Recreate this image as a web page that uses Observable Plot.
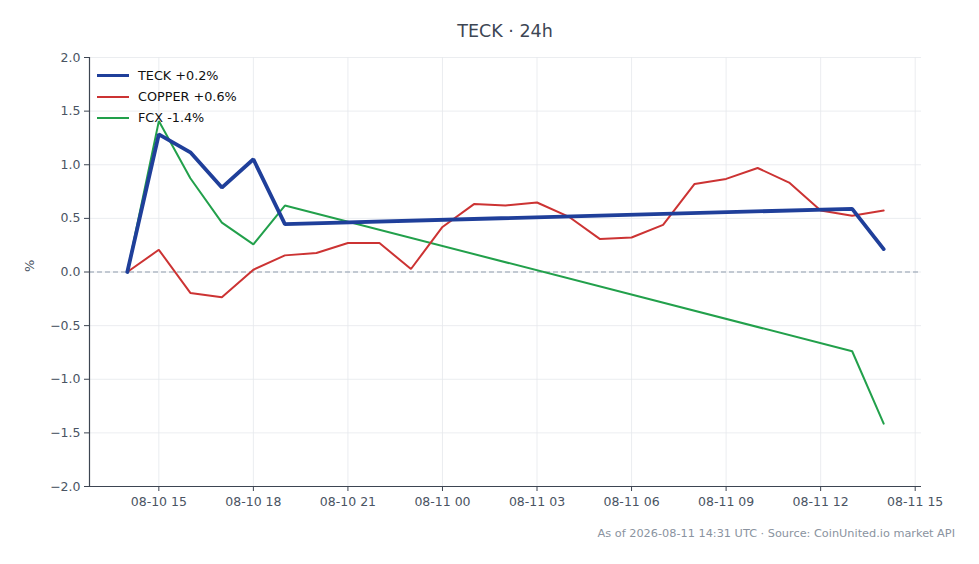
<!DOCTYPE html>
<html>
<head>
<meta charset="utf-8">
<script src="https://cdn.jsdelivr.net/npm/d3@7"></script>
<script src="https://cdn.jsdelivr.net/npm/@observablehq/plot@0.6"></script>
<style>
  html, body { margin: 0; padding: 0; background: #fff; }
  body { width: 979px; height: 564px; overflow: hidden; font-family: "DejaVu Sans", sans-serif; }
  #wrap { position: relative; width: 979px; }
  #title { height: 40px; line-height: 1; font-size: 17.5px; color: #3d4654; position: relative; }
  #title span { position: absolute; left: 505px; top: 23px; transform: translateX(-50%); white-space: nowrap; }
  #caption { position: relative; height: 40px; font-size: 11.3px; color: #8a93a0; }
  #caption span { position: absolute; right: 24px; top: 9px; white-space: nowrap; }
  #legend { position: absolute; left: 97px; top: 65px; font-size: 12.8px; color: #111; }
  #legend .row { display: flex; align-items: center; height: 21px; }
  #legend .sw { width: 32px; margin-right: 9px; }
</style>
</head>
<body>
<div id="wrap">
  <div id="title"><span>TECK · 24h</span></div>
  <div id="chart"></div>
  <div id="caption"><span>As of 2026-08-11 14:31 UTC · Source: CoinUnited.io market API</span></div>
  <div id="legend"></div>
</div>
<script>
// Data (percent change)
const tekTimes = ["2026-08-10T14:00Z","2026-08-10T15:00Z","2026-08-10T16:00Z","2026-08-10T17:00Z","2026-08-10T18:00Z","2026-08-10T19:00Z","2026-08-11T13:00Z","2026-08-11T14:00Z"];
const tekValues = [0, 1.284, 1.116, 0.787, 1.051, 0.447, 0.589, 0.214];

const copperTimes = ["2026-08-10T14:00Z","2026-08-10T15:00Z","2026-08-10T16:00Z","2026-08-10T17:00Z","2026-08-10T18:00Z","2026-08-10T19:00Z","2026-08-10T20:00Z","2026-08-10T21:00Z","2026-08-10T22:00Z","2026-08-10T23:00Z","2026-08-11T00:00Z","2026-08-11T01:00Z","2026-08-11T02:00Z","2026-08-11T03:00Z","2026-08-11T04:00Z","2026-08-11T05:00Z","2026-08-11T06:00Z","2026-08-11T07:00Z","2026-08-11T08:00Z","2026-08-11T09:00Z","2026-08-11T10:00Z","2026-08-11T11:00Z","2026-08-11T12:00Z","2026-08-11T13:00Z","2026-08-11T14:00Z"];
const copperValues = [0, 0.207, -0.195, -0.236, 0.021, 0.155, 0.177, 0.27, 0.27, 0.028, 0.42, 0.633, 0.62, 0.648, 0.517, 0.307, 0.322, 0.44, 0.821, 0.868, 0.97, 0.834, 0.573, 0.524, 0.573];

const fcxTimes = ["2026-08-10T14:00Z","2026-08-10T15:00Z","2026-08-10T16:00Z","2026-08-10T17:00Z","2026-08-10T18:00Z","2026-08-10T19:00Z","2026-08-11T13:00Z","2026-08-11T14:00Z"];
const fcxValues = [0, 1.407, 0.874, 0.461, 0.257, 0.62, -0.739, -1.414];

const seriesNames = ["TECK +0.2%", "COPPER +0.6%", "FCX -1.4%"];
const seriesColors = ["#1f3f9a", "#cc3333", "#22a04b"];
const seriesWidths = [3.8, 2, 2];

const xTicks = ["2026-08-10T15:00Z","2026-08-10T18:00Z","2026-08-10T21:00Z","2026-08-11T00:00Z","2026-08-11T03:00Z","2026-08-11T06:00Z","2026-08-11T09:00Z","2026-08-11T12:00Z","2026-08-11T15:00Z"].map(d => new Date(d));
const yTicks = [-2.0, -1.5, -1.0, -0.5, 0.0, 0.5, 1.0, 1.5, 2.0];
const xDomain = [new Date("2026-08-10T12:48Z"), new Date("2026-08-11T15:12Z")];

const toRows = (times, vals) => times.map((t, i) => ({t: new Date(t), v: vals[i]}));
const teck = toRows(tekTimes, tekValues);
const copper = toRows(copperTimes, copperValues);
const fcx = toRows(fcxTimes, fcxValues);

const axisColor = "#3d4552";
const fmtY = d => d.toFixed(1).replace("-", "\u2212");

const chart = Plot.plot({
  width: 979,
  height: 478,
  marginLeft: 89,
  marginRight: 58,
  marginTop: 17,
  marginBottom: 32,
  style: {fontFamily: "DejaVu Sans, sans-serif", fontSize: "12.5px", color: "#4a5463", background: "#fff"},
  x: {type: "utc", domain: xDomain},
  y: {domain: [-2, 2]},
  marks: [
    Plot.gridX(xTicks, {stroke: "#e6e8ec", strokeOpacity: 1, strokeWidth: 0.8}),
    Plot.gridY(yTicks, {stroke: "#e6e8ec", strokeOpacity: 1, strokeWidth: 0.8}),
    Plot.ruleY([0], {stroke: "#8f9cad", strokeWidth: 1, strokeDasharray: "5,3"}),
    Plot.line(fcx, {x: "t", y: "v", stroke: seriesColors[2], strokeWidth: seriesWidths[2], strokeLinejoin: "miter"}),
    Plot.line(copper, {x: "t", y: "v", stroke: seriesColors[1], strokeWidth: seriesWidths[1], strokeLinejoin: "miter"}),
    Plot.line(teck, {x: "t", y: "v", stroke: seriesColors[0], strokeWidth: seriesWidths[0], strokeLinejoin: "miter"}),
    Plot.axisX({ticks: xTicks, tickFormat: d3.utcFormat("%m-%d %H"), tickSize: 5, tickPadding: 6, stroke: axisColor, label: null, fill: "#4a5463"}),
    Plot.axisY({ticks: yTicks, tickFormat: fmtY, tickSize: 5, tickPadding: 4, stroke: axisColor, label: null, fill: "#4a5463"}),
    Plot.ruleX([xDomain[0]], {stroke: axisColor, strokeWidth: 1.2}),
    Plot.ruleY([-2], {stroke: axisColor, strokeWidth: 1.2}),
    Plot.text(["%"], {frameAnchor: "left", dx: -60, rotate: -90, fontSize: 13, fill: "#4a5463"})
  ]
});
document.getElementById("chart").appendChild(chart);

const legend = document.getElementById("legend");
seriesNames.forEach((name, i) => {
  const row = document.createElement("div");
  row.className = "row";
  const sw = document.createElement("div");
  sw.className = "sw";
  sw.style.height = seriesWidths[i] + "px";
  sw.style.background = seriesColors[i];
  const label = document.createElement("span");
  label.textContent = name;
  row.appendChild(sw);
  row.appendChild(label);
  legend.appendChild(row);
});
</script>
</body>
</html>
